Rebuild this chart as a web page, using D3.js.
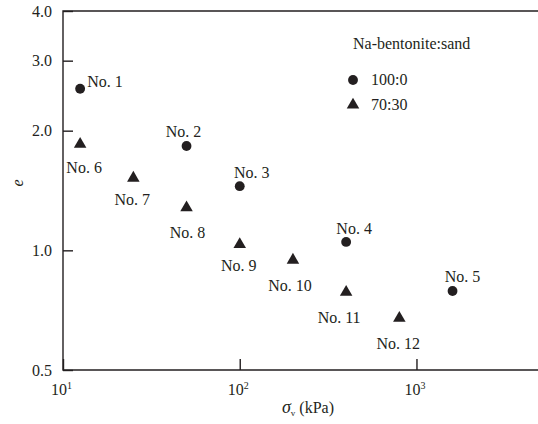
<!DOCTYPE html>
<html>
<head>
<meta charset="utf-8">
<script src="https://cdn.jsdelivr.net/npm/d3@7/dist/d3.min.js"></script>
<style>
  html, body { margin: 0; padding: 0; background: #fff; }
  svg { display: block; }
  svg text { font-family: 'Liberation Serif', 'Times New Roman', Times, 'DejaVu Serif', serif; }
</style>
</head>
<body>
<svg id="chart" width="538" height="424"></svg>
<script>
// Sample names, vertical stress (kPa) and void ratio e
const labels  = ["No. 1", "No. 2", "No. 3", "No. 4", "No. 5",
                 "No. 6", "No. 7", "No. 8", "No. 9", "No. 10", "No. 11", "No. 12"];
const mixes   = ["100:0", "100:0", "100:0", "100:0", "100:0",
                 "70:30", "70:30", "70:30", "70:30", "70:30", "70:30", "70:30"];
const stress  = [12.5, 50, 100, 400, 1600, 12.5, 25, 50, 100, 200, 400, 800];
const voidRatio = [2.55, 1.83, 1.45, 1.05, 0.79, 1.85, 1.52, 1.28, 1.035, 0.945, 0.785, 0.675];

const legendTitle = "Na-bentonite:sand";
const legendItems = ["100:0", "70:30"];
const yTicks = [0.5, 1.0, 2.0, 3.0, 4.0];
const xTicks = [10, 100, 1000];

// Label placement relative to each marker (dx, baseline dy), in px
const labelDx = [7, -3, 12, 8, 10, 4, -1, 1, -1, -3, -7, -1];
const labelDy = [-2, -9, -8, -8, -9, 29, 27, 30, 27, 31, 31, 31];
const labelAnchor = ["start", "middle", "middle", "middle", "middle",
                     "middle", "middle", "middle", "middle", "middle", "middle", "middle"];

const svg = d3.select("#chart");
const ink = "#231f20";
const fontSize = 16;

const x = d3.scaleLog().domain([10, 5000]).range([63, 540]);
const y = d3.scaleLog().domain([0.5, 4.0]).range([370, 11]);

const symbolFor = m => m === "100:0"
  ? d3.symbol().type(d3.symbolCircle).size(76)
  : d3.symbol().type(d3.symbolTriangle).size(68);

// Frame: left, top and bottom lines
svg.append("path")
  .attr("d", `M${x(5000)},${y(4)}H${x(10)}V${y(0.5)}H${x(5000)}`)
  .attr("fill", "none").attr("stroke", ink).attr("stroke-width", 1.4);

// Y axis with inward ticks
const yAxis = svg.append("g")
  .attr("transform", `translate(${x(10)},0)`)
  .call(d3.axisLeft(y).tickValues(yTicks).tickSize(-10).tickPadding(11)
        .tickFormat(d3.format(".1f")));
yAxis.attr("font-family", null).attr("font-size", null);
yAxis.select(".domain").remove();
yAxis.selectAll(".tick line").attr("stroke", ink).attr("stroke-width", 1.4);
yAxis.selectAll(".tick text")
  .attr("fill", ink).attr("font-size", fontSize);

// X axis with inward ticks and power-of-ten labels
const xAxis = svg.append("g")
  .attr("transform", `translate(0,${y(0.5)})`)
  .call(d3.axisBottom(x).tickValues(xTicks).tickSize(-11).tickFormat(() => ""));
xAxis.attr("font-family", null).attr("font-size", null);
xAxis.select(".domain").remove();
xAxis.selectAll(".tick line").attr("stroke", ink).attr("stroke-width", 1.4);
xAxis.selectAll(".tick text").remove();
xAxis.selectAll(".tick").append("text")
  .attr("y", 25).attr("x", -2)
  .attr("text-anchor", "middle")
  .attr("fill", ink).attr("font-size", fontSize)
  .each(function(d) {
    const t = d3.select(this);
    t.append("tspan").text("10");
    t.append("tspan").attr("font-size", 10).attr("dy", -6)
      .text(Math.round(Math.log10(d)));
  });

// Axis titles
svg.append("text")
  .attr("transform", "translate(23,183) rotate(-90)")
  .attr("text-anchor", "middle")
  .attr("font-style", "italic").attr("font-size", fontSize).attr("fill", ink)
  .text("e");

const xTitle = svg.append("text")
  .attr("x", 308).attr("y", 413)
  .attr("text-anchor", "middle")
  .attr("font-size", fontSize).attr("fill", ink);
xTitle.append("tspan").attr("font-style", "italic").attr("font-size", 18).text("σ");
xTitle.append("tspan").attr("font-size", 9).attr("dy", 3).text("v");
xTitle.append("tspan").attr("dy", -3).text(" (kPa)");

// Data markers
const pts = svg.append("g");
stress.forEach((s, i) => {
  pts.append("path")
    .attr("d", symbolFor(mixes[i])())
    .attr("transform", `translate(${x(s)},${y(voidRatio[i])})`)
    .attr("fill", ink);
  pts.append("text")
    .attr("x", x(s) + labelDx[i])
    .attr("y", y(voidRatio[i]) + labelDy[i])
    .attr("text-anchor", labelAnchor[i])
    .attr("font-size", fontSize).attr("fill", ink)
    .text(labels[i]);
});

// Legend
const lg = svg.append("g");
lg.append("text").attr("x", 353).attr("y", 49)
  .attr("font-size", fontSize).attr("fill", ink).text(legendTitle);
legendItems.forEach((m, i) => {
  const cy = 80 + i * 25;
  lg.append("path").attr("d", symbolFor(m)())
    .attr("transform", `translate(353,${cy})`).attr("fill", ink);
  lg.append("text").attr("x", 371).attr("y", cy + 5)
    .attr("font-size", fontSize).attr("fill", ink).text(m);
});
</script>
</body>
</html>
